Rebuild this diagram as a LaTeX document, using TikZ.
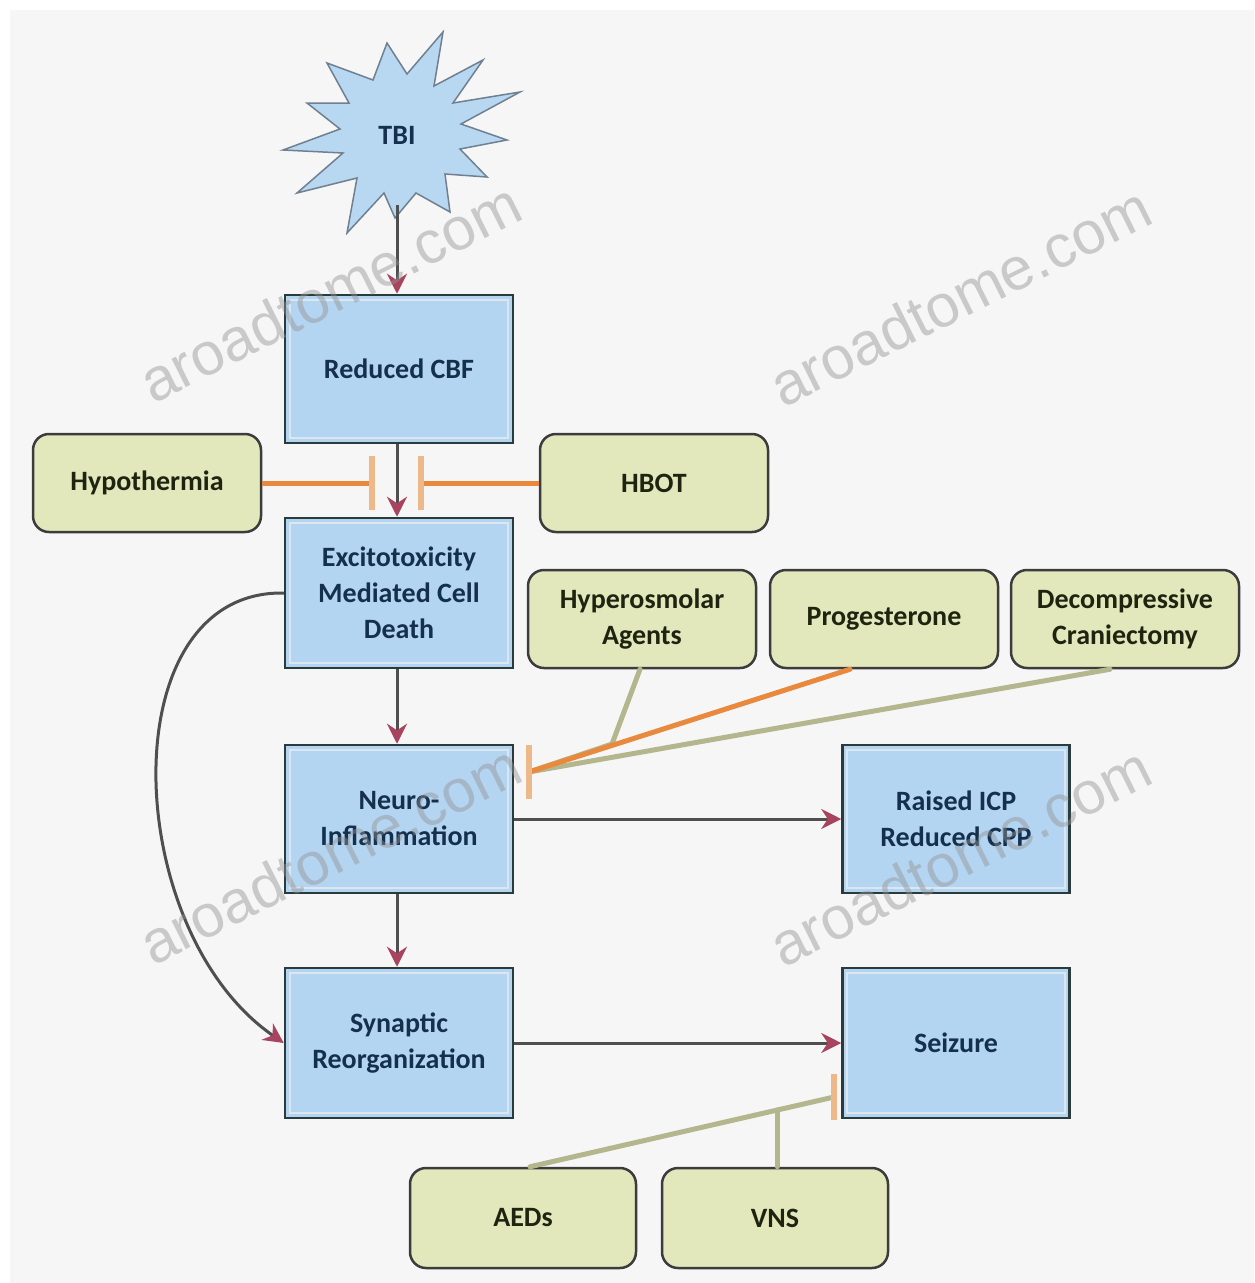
\documentclass[tikz,border=0pt]{standalone}
\usepackage{fontspec}
\setmainfont{Carlito}
\newfontfamily\wmfont{Liberation Sans}
\usetikzlibrary{arrows.meta,calc}
\definecolor{bgc}{HTML}{F6F6F6}
\definecolor{bluef}{HTML}{B4D5F1}
\definecolor{bluedr}{HTML}{2A3B3B}
\definecolor{bluein}{HTML}{DCE6EE}
\definecolor{greenf}{HTML}{E2E7BC}
\definecolor{greendr}{HTML}{3C3C3C}
\definecolor{navy}{HTML}{15304C}
\definecolor{darkt}{HTML}{1E2410}
\definecolor{arr}{HTML}{4F4F4F}
\definecolor{tipc}{HTML}{A8445F}
\definecolor{orng}{HTML}{E8893E}
\definecolor{barc}{HTML}{EDB88A}
\definecolor{olv}{HTML}{B4B78E}
\definecolor{burstf}{HTML}{B8D8F2}
\definecolor{burstd}{HTML}{6F8090}
\begin{document}
\begin{tikzpicture}[x=1pt,y=-1pt,
  txt/.style={font=\bfseries\fontsize{28}{36}\selectfont},
  bluebox/.style={txt, draw=bluedr, fill=bluef, line width=2.5pt, minimum width=228pt, minimum height=148pt, inner sep=4pt, align=center, text=navy},
  greenbox/.style={txt, draw=greendr, fill=greenf, line width=2.5pt, rounded corners=16pt, minimum width=228pt, minimum height=98pt, inner sep=4pt, align=center, text=darkt},
  innerframe/.style={draw=bluein, line width=1.8pt},
  flow/.style={draw=arr, line width=3pt, -{Stealth[length=20pt,width=20pt,color=tipc]}},
  inhib/.style={line width=5pt, line cap=round},
  barst/.style={draw=barc, line width=6pt},
  wm/.style={font=\wmfont\fontsize{60}{60}\selectfont, text=gray!85, opacity=0.45, rotate=26.5}
]
% background
\fill[white] (0,0) rectangle (1254,1283);
\fill[bgc] (10,10) rectangle (1254,1283);

% TBI starburst
\draw[fill=burstf, draw=burstd, line width=1.5pt, line join=miter]
  (443,32) -- (434,86) -- (483,60) -- (453,103) -- (520,92) -- (461,124)
  -- (507,140) -- (460,149) -- (487,177) -- (445,174) -- (450,212) -- (416,193)
  -- (395,218) -- (384,193) -- (347,233) -- (357,178) -- (297,193) -- (343,153)
  -- (283,150) -- (340,129) -- (307,103) -- (349,103) -- (327,63) -- (373,80)
  -- (387,43) -- (407,74) -- cycle;
\node[txt, text=navy] (tbi) at (397,135) {TBI};
\coordinate (tbibot) at (397,205);

% main boxes
\node[bluebox] (cbf) at (399,369) {Reduced CBF};
\node[bluebox, minimum height=150pt] (exc) at (399,593) {Excitotoxicity\\Mediated Cell\\Death};
\node[bluebox] (ni) at (399,819) {Neuro-\\Inflammation};
\node[bluebox, minimum height=150pt] (syn) at (399,1043) {Synaptic\\Reorganization};
\node[bluebox, minimum width=227pt] (icp) at (956,819) {Raised ICP\\Reduced CPP};
\node[bluebox, minimum width=227pt, minimum height=150pt] (sz) at (956,1043) {Seizure};
\foreach \n in {cbf,exc,ni,syn,icp,sz}
  \draw[innerframe] ($(\n.south west)+(6pt,6pt)$) rectangle ($(\n.north east)+(-6pt,-6pt)$);

% therapy boxes
\node[greenbox] (hypo) at (147,483) {Hypothermia};
\node[greenbox] (hbot) at (654,483) {HBOT};
\node[greenbox] (hyper) at (642,619) {Hyperosmolar\\Agents};
\node[greenbox] (prog) at (884,619) {Progesterone};
\node[greenbox] (decomp) at (1125,619) {Decompressive\\Craniectomy};
\node[greenbox, minimum width=226pt, minimum height=100pt] (aeds) at (523,1218) {AEDs};
\node[greenbox, minimum width=226pt, minimum height=100pt] (vns) at (775,1218) {VNS};

% flow arrows
\draw[flow] (tbibot) -- (tbibot |- cbf.north);
\draw[flow] (cbf.south -| tbibot) -- (exc.north -| tbibot);
\draw[flow] (exc.south -| tbibot) -- (ni.north -| tbibot);
\draw[flow] (ni.south -| tbibot) -- (syn.north -| tbibot);
\draw[flow] (ni.east) -- (icp.west);
\draw[flow] (syn.east) -- (sz.west);
\draw[flow] (exc.west) .. controls (110,590) and (120,930) .. (syn.west);

% inhibitors: hypothermia / HBOT
\coordinate (hbarL) at (372,483);
\coordinate (hbarR) at (421,483);
\draw[inhib, draw=orng, line cap=butt] (hypo.east) -- (hbarL);
\draw[inhib, draw=orng, line cap=butt] (hbot.west) -- (hbarR);
\draw[barst] ($(hbarL)+(0,-27)$) -- ($(hbarL)+(0,27)$);
\draw[barst] ($(hbarR)+(0,-27)$) -- ($(hbarR)+(0,27)$);

% inhibitors to neuro-inflammation
\coordinate (nibar) at (529,772);
\coordinate (hjoin) at (612,744);
\coordinate (dstart) at ($(decomp.south)+(-15pt,0)$);
\draw[inhib, draw=olv] (dstart) -- (nibar);
\draw[inhib, draw=olv] ($(hyper.south)+(-2pt,0)$) -- (hjoin) -- (nibar);
\draw[inhib, draw=orng] ($(prog.south)+(-34pt,0)$) -- (nibar);
\draw[barst] ($(nibar)+(0,-27)$) -- ($(nibar)+(0,27)$);

% inhibitors to seizure
\coordinate (szbar) at (834,1097);
\coordinate (vjoin) at (777,1110);
\draw[inhib, draw=olv] ($(aeds.north)+(7pt,0)$) -- (szbar);
\draw[inhib, draw=olv] (vns.north -| vjoin) -- (vjoin);
\draw[barst] ($(szbar)+(0,-23)$) -- ($(szbar)+(0,23)$);

% watermarks
\node[wm] (wm1) at (330,292) {aroadtome.com};
\node[wm] (wm2) at (960,296) {aroadtome.com};
\node[wm] (wm3) at (330,854) {aroadtome.com};
\node[wm] (wm4) at (960,856) {aroadtome.com};
\end{tikzpicture}
\end{document}
